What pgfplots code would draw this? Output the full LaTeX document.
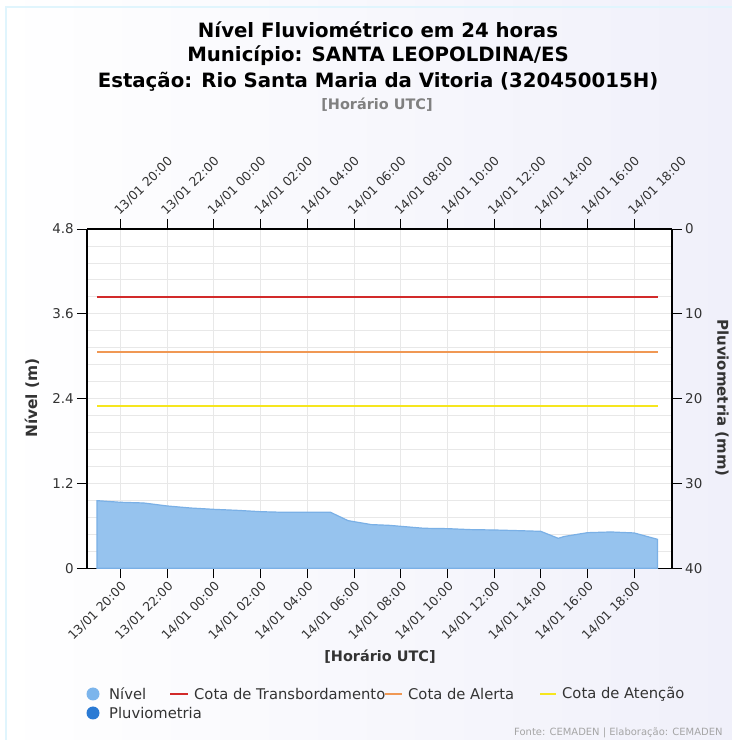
\documentclass[border=0pt]{standalone}
\usepackage{fontspec}
\setmainfont{DejaVu Sans}
\usepackage{pgfplots}
\pgfplotsset{compat=1.18}
\definecolor{nivelfill}{RGB}{150,195,238}
\definecolor{nivelline}{RGB}{122,176,230}
\definecolor{nivelleg}{RGB}{124,181,236}
\definecolor{pluvleg}{RGB}{42,122,212}
\definecolor{cred}{RGB}{210,42,42}
\definecolor{corange}{RGB}{240,152,84}
\definecolor{cyellow}{RGB}{246,230,30}
\definecolor{gridc}{RGB}{232,232,232}
\definecolor{bgr}{RGB}{240,240,250}
\definecolor{txt}{RGB}{51,51,51}
\begin{document}
\begin{tikzpicture}[x=1bp,y=1bp]
\useasboundingbox (0,0) rectangle (732,740);
\shade[left color=white,right color=bgr] (0,0) rectangle (732,740);
\draw[cyan!12, line width=1.2bp] (6,0) -- (6,733) -- (732,733);
\pgfplotsset{
  common/.style={
    at={(87bp,171.7bp)}, anchor=south west,
    width=585bp, height=339.3bp, scale only axis,
    xmin=18.57, xmax=43.62,
    xtick={20,22,...,42},
    xticklabels={13/01 20:00,13/01 22:00,14/01 00:00,14/01 02:00,14/01 04:00,14/01 06:00,14/01 08:00,14/01 10:00,14/01 12:00,14/01 14:00,14/01 16:00,14/01 18:00},
    tick align=outside, major tick length=10bp,
    tick style={black, line width=0.8bp},
    axis line style={black, line width=1.1bp, -},
    xticklabel style={font=\fontsize{12.5}{14}\selectfont, text=txt},
    yticklabel style={font=\fontsize{13.5}{15}\selectfont, text=txt},
  }
}
\begin{axis}[common,
    axis x line*=bottom, axis y line*=left,
    ymin=0, ymax=4.8,
    ytick={0,1.2,2.4,3.6,4.8}, yticklabels={0,1.2,2.4,3.6,4.8},
    minor y tick num=4, minor tick length=0pt,
    xmajorgrids, ymajorgrids, yminorgrids,
    major grid style={gridc, line width=0.8bp},
    minor grid style={gridc, line width=0.8bp},
    xticklabel style={rotate=45, anchor=north east, inner sep=1.5bp},
    yticklabel style={inner sep=3bp},
    axis background/.style={fill=white},
]
\addplot[fill=nivelfill, draw=nivelline, line width=1.2bp] coordinates {
(19,0.957)(20,0.934)(21,0.924)(22,0.882)(23,0.853)(24,0.834)(25,0.820)(26,0.801)
(27,0.792)(28,0.792)(29,0.792)(29.75,0.674)(30,0.660)(30.75,0.618)(31.5,0.608)
(32,0.594)(33,0.566)(34,0.561)(35,0.547)(36,0.542)(37,0.533)(38,0.523)
(38.75,0.424)(39,0.450)(40,0.504)(41,0.514)(42,0.500)(43,0.410)
} \closedcycle;
\addplot[cred, line width=2bp] coordinates {(19,3.84)(43,3.84)};
\addplot[corange, line width=2bp] coordinates {(19,3.06)(43,3.06)};
\addplot[cyellow, line width=2bp] coordinates {(19,2.30)(43,2.30)};
\end{axis}
\begin{axis}[common,
    axis x line*=top, axis y line*=right,
    ymin=0, ymax=40, y dir=reverse,
    ytick={0,10,20,30,40},
    yticklabels={0,10,20,30,40},
    xticklabel style={rotate=45, anchor=south west, inner sep=1.5bp},
    yticklabel style={inner sep=3bp},
]
\addplot[draw=none] coordinates {(20,0)};
\end{axis}
% titles
\node[font=\fontsize{19.8}{23}\selectfont\bfseries, text=black] at (378,710) {Nível Fluviométrico em 24 horas};
\node[font=\fontsize{19.8}{23}\selectfont\bfseries, text=black] at (378,684) {Município: SANTA LEOPOLDINA/ES};
\node[font=\fontsize{19.8}{23}\selectfont\bfseries, text=black] at (378,658) {Estação: Rio Santa Maria da Vitoria (320450015H)};
\node[font=\fontsize{14.5}{16}\selectfont\bfseries, text={rgb,255:red,128;green,128;blue,128}] at (377,635) {[Horário UTC]};
% axis labels
\node[font=\fontsize{15.5}{17}\selectfont\bfseries, text=txt, rotate=90] at (32,342) {Nível (m)};
\node[font=\fontsize{15}{17}\selectfont\bfseries, text=txt, rotate=-90] at (722,342) {Pluviometria (mm)};
\node[font=\fontsize{14.5}{16}\selectfont\bfseries, text=txt] at (380,83) {[Horário UTC]};
% legend
\fill[nivelleg] (93,46) circle (6.5);
\fill[pluvleg] (93,27) circle (6.5);
\draw[cred, line width=2bp] (170,46) -- (188,46);
\draw[corange, line width=2bp] (385,46) -- (402,46);
\draw[cyellow, line width=2bp] (540,46) -- (556,46);
\begin{scope}[every node/.style={font=\fontsize{14.8}{17}\selectfont, text=txt, anchor=west, inner sep=0pt}]
\node at (109,46) {Nível};
\node at (194,46) {Cota de Transbordamento};
\node at (408,46) {Cota de Alerta};
\node at (562,46) {Cota de Atenção};
\node at (109,27) {Pluviometria};
\end{scope}
\node[font=\fontsize{10}{12}\selectfont, text={rgb,255:red,165;green,165;blue,165}, anchor=west, inner sep=0pt] at (514,7) {Fonte: CEMADEN | Elaboração: CEMADEN};
\end{tikzpicture}
\end{document}
